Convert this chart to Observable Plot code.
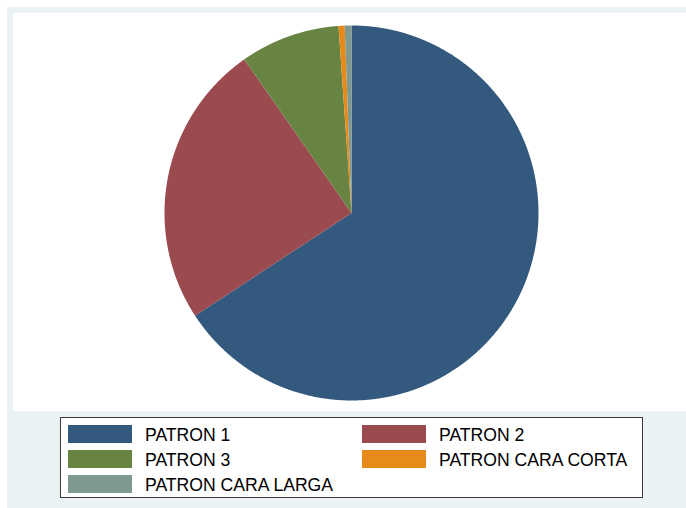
<!DOCTYPE html>
<html>
<head>
<meta charset="utf-8">
<script src="https://cdn.jsdelivr.net/npm/d3@7"></script>
<script src="https://cdn.jsdelivr.net/npm/@observablehq/plot@0.6"></script>
<style>
  html, body { margin: 0; padding: 0; background: #ffffff; }
  body { width: 686px; height: 508px; position: relative; overflow: hidden; font-family: "Liberation Sans", Arial, sans-serif; }
  #outer { position: absolute; left: 7px; top: 7px; width: 679px; height: 501px; background: #eaf2f3; }
  #plotarea { position: absolute; left: 13px; top: 13px; width: 673px; height: 398px; background: #ffffff; }
  #plotarea svg { display: block; }
  #legend { position: absolute; left: 60px; top: 417px; width: 581px; height: 79px; background: #ffffff; border: 1px solid #3a3a3a; }
  .sw { position: absolute; width: 64px; height: 18px; }
  .lb { position: absolute; font-size: 17.6px; line-height: 20px; color: #000; white-space: nowrap; }
</style>
</head>
<body>
<div id="outer"></div>
<div id="plotarea"></div>
<div id="legend"></div>
<script>
// Data
const categories = ["PATRON 1", "PATRON 2", "PATRON 3", "PATRON CARA CORTA", "PATRON CARA LARGA"];
const shares = [65.78, 24.5, 8.61, 0.53, 0.58];
const colors = ["#335a7e", "#9b4a50", "#678443", "#e88a1a", "#80998f"];

// Build slice outlines (clockwise from 12 o'clock) from the shares
const total = d3.sum(shares);
const pts = [];
let start = 0;
categories.forEach((name, i) => {
  const a0 = start;
  const a1 = start + shares[i] / total * 2 * Math.PI;
  start = a1;
  const n = Math.max(2, Math.ceil((a1 - a0) / 0.005));
  pts.push({name, x: 0, y: 0});
  for (let k = 0; k <= n; k++) {
    const a = a0 + (a1 - a0) * k / n;
    pts.push({name, x: Math.sin(a), y: Math.cos(a)});
  }
  pts.push({name, x: 0, y: 0});
});

const W = 673, H = 398;
const chart = Plot.plot({
  width: W,
  height: H,
  marginLeft: 151,
  marginRight: 148,
  marginTop: 12,
  marginBottom: 11,
  x: {domain: [-1, 1], axis: null},
  y: {domain: [-1, 1], axis: null},
  color: {domain: categories, range: colors},
  marks: [
    Plot.line(pts, {x: "x", y: "y", z: "name", fill: "name", stroke: null, curve: "linear"})
  ]
});
document.getElementById("plotarea").appendChild(chart);

// Legend (two columns, row-major like the reference)
const legend = document.getElementById("legend");
const colX = [7, 301];
const rowY = [7, 32, 57];
categories.forEach((name, i) => {
  const col = i % 2, row = Math.floor(i / 2);
  const sw = document.createElement("div");
  sw.className = "sw";
  sw.style.left = colX[col] + "px";
  sw.style.top = rowY[row] + "px";
  sw.style.background = colors[i];
  legend.appendChild(sw);
  const lb = document.createElement("div");
  lb.className = "lb";
  lb.style.left = (colX[col] + 77) + "px";
  lb.style.top = (rowY[row]) + "px";
  lb.textContent = name;
  legend.appendChild(lb);
});
</script>
</body>
</html>
